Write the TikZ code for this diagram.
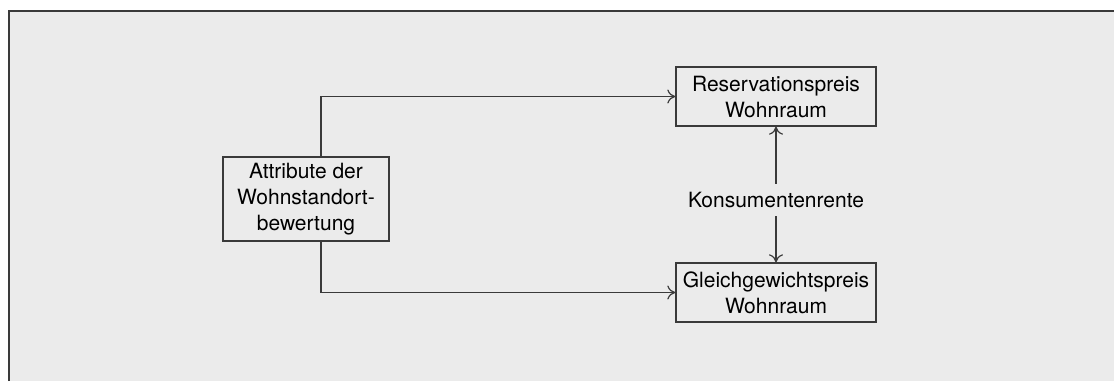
\documentclass[tikz,border=0pt]{standalone}
\usepackage{fontspec}
\setmainfont{TeX Gyre Heros}
\usetikzlibrary{arrows.meta}
\definecolor{panel}{HTML}{EBEBEB}
\definecolor{ink}{HTML}{3A3A3A}
\tikzset{
    box/.style={draw=ink, fill=panel, align=center, inner sep=0pt, line width=0.7pt, font=\fontsize{10.5}{13}\selectfont},
    link/.style={draw=ink, line width=0.6pt, -{To[length=4pt,width=7pt]}}
}
\begin{document}
\begin{tikzpicture}[x=0.5pt,y=-0.5pt]
        \useasboundingbox (0,0) rectangle (1114,381);
        %% panel
        \fill[panel] (9,11) rectangle (1114,381);
        \draw[ink, line width=1pt] (9,381) -- (9,11) -- (1114,11);
        %% boxes
        \node[box, minimum width=83pt, minimum height=42pt] (attr) at (306,199) {Attribute der\\Wohnstandort-\\bewertung};
        \node[box, minimum width=100pt, minimum height=29.5pt] (res) at (776,96.5) {Reservationspreis\\Wohnraum};
        \node[box, minimum width=100pt, minimum height=29.5pt] (gg) at (776,292.5) {Gleichgewichtspreis\\Wohnraum};
        \node[font=\fontsize{10.5}{13}\selectfont, inner sep=4pt] (kr) at (776,200) {Konsumentenrente};
        %% connectors
        \draw[link] ([xshift=7.5pt]attr.north) |- (res.west);
        \draw[link] ([xshift=7.5pt]attr.south) |- (gg.west);
        \draw[link] (kr.north) -- (res.south);
        \draw[link] (kr.south) -- (gg.north);
    \end{tikzpicture}
\end{document}
